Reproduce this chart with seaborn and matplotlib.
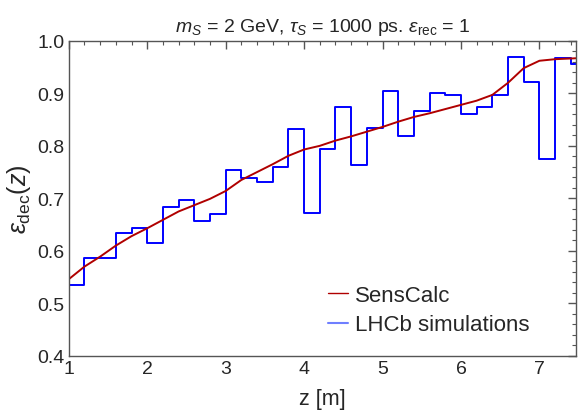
import numpy as np
import pandas as pd
import matplotlib
matplotlib.use("Agg")
import matplotlib.pyplot as plt
import seaborn as sns
from matplotlib.ticker import MultipleLocator, FormatStrFormatter
from matplotlib.lines import Line2D

# ---- data ----
bin_edges = [1.0, 1.2, 1.4, 1.6, 1.8, 2.0, 2.2, 2.4, 2.6, 2.8, 3.0, 3.2, 3.4, 3.6, 3.8,
             4.0, 4.2, 4.4, 4.6, 4.8, 5.0, 5.2, 5.4, 5.6, 5.8, 6.0, 6.2, 6.4, 6.6, 6.8,
             7.0, 7.2, 7.4, 7.6]
lhcb_eff = [0.535, 0.587, 0.587, 0.634, 0.643, 0.614, 0.684, 0.697, 0.657, 0.671,
            0.754, 0.739, 0.732, 0.759, 0.833, 0.672, 0.794, 0.874, 0.764, 0.834,
            0.905, 0.818, 0.866, 0.900, 0.897, 0.861, 0.874, 0.897, 0.969, 0.921,
            0.775, 0.968, 0.955]

calc_z = [1.0, 1.2, 1.4, 1.6, 1.8, 2.0, 2.2, 2.4, 2.6, 2.8, 3.0, 3.2, 3.4, 3.6, 3.8,
          4.0, 4.2, 4.4, 4.6, 4.8, 5.0, 5.2, 5.4, 5.6, 5.8, 6.0, 6.2, 6.4, 6.6, 6.8,
          7.0, 7.2, 7.5]
calc_eff = [0.546, 0.570, 0.589, 0.610, 0.628, 0.643, 0.659, 0.675, 0.687, 0.699,
            0.714, 0.735, 0.750, 0.765, 0.781, 0.793, 0.800, 0.810, 0.818, 0.827,
            0.836, 0.846, 0.855, 0.862, 0.870, 0.878, 0.886, 0.897, 0.920, 0.948,
            0.962, 0.965, 0.967]

legend_labels = ["SensCalc", "LHCb simulations"]

sns.set_theme(style="white")
plt.rcParams['font.family'] = ['Liberation Sans', 'DejaVu Sans']
plt.rcParams['mathtext.fontset'] = 'custom'
plt.rcParams['mathtext.rm'] = 'Liberation Sans'
plt.rcParams['mathtext.it'] = 'Liberation Sans:italic'

fig = plt.figure(figsize=(5.78, 4.14), dpi=100)
ax = fig.add_axes([0.119, 0.138, 0.878, 0.761])

centers = [(bin_edges[i] + bin_edges[i + 1]) / 2 for i in range(len(lhcb_eff))]
df_h = pd.DataFrame({"z": centers, "w": lhcb_eff})
sns.histplot(data=df_h, x="z", weights="w", bins=bin_edges, element="step",
             fill=False, color="#0000ff", linewidth=1.4, ax=ax)

df_c = pd.DataFrame({"z": calc_z, "eff": calc_eff})
sns.lineplot(data=df_c, x="z", y="eff", color="#b00000", linewidth=1.4, ax=ax)

ax.set_xlim(1, 7.47)
ax.set_ylim(0.4, 1.0)
ax.xaxis.set_major_locator(MultipleLocator(1))
ax.xaxis.set_minor_locator(MultipleLocator(0.2))
ax.yaxis.set_major_locator(MultipleLocator(0.1))
ax.yaxis.set_minor_locator(MultipleLocator(0.02))
ax.yaxis.set_major_formatter(FormatStrFormatter('%.1f'))
ax.tick_params(which="both", direction="in", top=True, right=True,
               labeltop=False, labelright=False, color="#555555")
ax.tick_params(which="major", length=6, width=1, labelsize=14, pad=3)
ax.tick_params(which="minor", length=3, width=0.8)
for s in ax.spines.values():
    s.set_color("#555555")
    s.set_linewidth(1)

ax.set_xlabel("z [m]", fontsize=15.5, labelpad=8)
ax.set_ylabel(r"$\epsilon_{\rm dec}(z)$", fontsize=18, labelpad=3)
ax.set_title(r"$m_S$ = 2 GeV, $\tau_S$ = 1000 ps. $\epsilon_{\rm rec}$ = 1",
             fontsize=14, pad=7)

handles = [Line2D([0], [0], color="#b00000", lw=1),
           Line2D([0], [0], color="#6f7fff", lw=1.5)]
ax.legend(handles, legend_labels, loc="lower left",
          bbox_to_anchor=(0.511, 0.065), frameon=False, fontsize=16,
          handlelength=0.9, handletextpad=0.3, labelspacing=0.4,
          borderpad=0, borderaxespad=0)

fig.savefig("out.png", dpi=100)
